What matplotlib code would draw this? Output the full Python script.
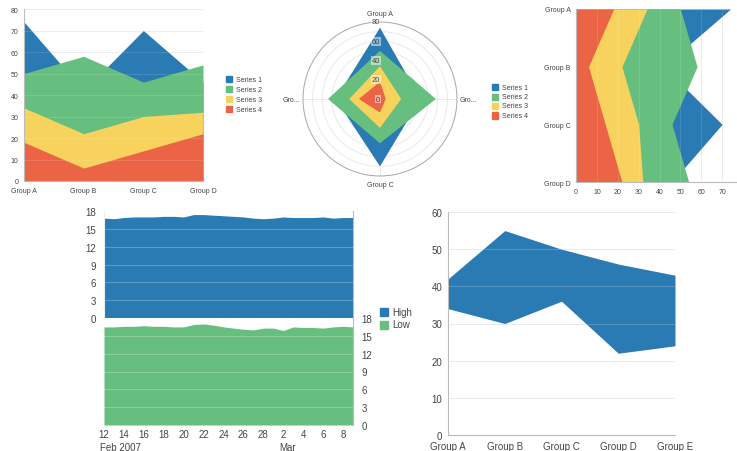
import numpy as np
import matplotlib
matplotlib.use("Agg")
import matplotlib.pyplot as plt
from matplotlib.patches import Rectangle
from matplotlib.transforms import blended_transform_factory

plt.rcParams['font.family'] = ['Liberation Sans', 'DejaVu Sans']

# --- data ---
groups4 = ["Group A", "Group B", "Group C", "Group D"]
series_names = ["Series 1", "Series 2", "Series 3", "Series 4"]
series1 = [74, 42, 70, 46]
series2 = [50, 58, 46, 54]
series3 = [34, 22, 30, 32]
series4 = [18, 6, 14, 22]

day_labels = ["12", "14", "16", "18", "20", "22", "24", "26", "28", "2", "4", "6", "8"]
high = [16.8, 16.7, 16.9, 17.0, 17.0, 17.0, 17.1, 17.1, 17.0, 17.4, 17.4, 17.3, 17.2,
        17.1, 17.0, 16.8, 16.7, 16.8, 17.0, 16.9, 16.9, 16.9, 17.0, 16.8, 16.9, 16.9]
low = [16.5, 16.5, 16.6, 16.6, 16.7, 16.6, 16.6, 16.5, 16.5, 16.9, 17.0, 16.8, 16.5,
       16.3, 16.1, 16.0, 16.3, 16.3, 15.9, 16.5, 16.4, 16.4, 16.3, 16.5, 16.6, 16.5]

groups5 = ["Group A", "Group B", "Group C", "Group D", "Group E"]
range_high = [42, 55, 50, 46, 43]
range_low = [34, 30, 36, 22, 24]

# --- style ---
colors = ["#2a7ab3", "#66bf7e", "#f7d25c", "#ec6446"]
txt = "#444444"
gridc = "#e6e6e6"
axisc = "#bbbbbb"

W, H = 737, 452
fig = plt.figure(figsize=(W / 100, H / 100), dpi=100)


def box(l, t, r, b):
    return [l / W, 1 - b / H, (r - l) / W, (b - t) / H]


def clean(ax, left=True, bottom=True):
    for s in ax.spines.values():
        s.set_visible(False)
    ax.spines['left'].set_visible(left)
    ax.spines['bottom'].set_visible(bottom)
    ax.spines['left'].set_color(axisc)
    ax.spines['bottom'].set_color(axisc)
    ax.tick_params(length=0, colors=txt)


def legend_px(x, y0, step, names, cols, fs=5, sq=6):
    for i, (n, c) in enumerate(zip(names, cols)):
        y = y0 + i * step
        fig.patches.append(Rectangle((x / W, 1 - (y + sq / 2) / H), sq / W, sq / H,
                                     transform=fig.transFigure, color=c))
        fig.text((x + sq + 4) / W, 1 - y / H, n, fontsize=fs, color=txt, va='center')


all_series = [series1, series2, series3, series4]

# top-left: overlapping area chart
ax1 = fig.add_axes(box(24, 10, 203, 182))
x4 = np.arange(len(groups4))
for s, c in zip(all_series, colors):
    ax1.fill_between(x4, 0, s, color=c, lw=0)
ax1.set_xlim(0, 3)
ax1.set_ylim(0, 80)
ax1.set_yticks(range(0, 81, 10))
ax1.set_xticks(x4)
ax1.set_xticklabels(groups4)
for v in range(10, 81, 10):
    ax1.axhline(v, color=gridc, lw=0.6, zorder=0)
    ax1.axhline(v, color="white", lw=0.6, alpha=0.15, zorder=3)
clean(ax1)
ax1.tick_params(axis='y', labelsize=5, pad=4)
ax1.tick_params(axis='x', labelsize=5, pad=4)
legend_px(226, 80, 10, series_names, colors)

# top-middle: radar
ax2 = fig.add_axes(box(303, 23, 457, 177), projection='polar')
ax2.set_theta_zero_location('N')
ax2.set_theta_direction(-1)
theta = np.linspace(0, 2 * np.pi, len(groups4), endpoint=False)
tc = np.append(theta, theta[0])
for s, c in zip(all_series, colors):
    ax2.fill(tc, np.append(s, s[0]), color=c, lw=0, zorder=2)
ax2.set_ylim(0, 80)
ax2.set_yticks(range(10, 81, 10))
ax2.set_yticklabels([])
ax2.set_xticks(theta)
ax2.set_xticklabels([])
ax2.grid(color=gridc, lw=0.6)
ax2.spines['polar'].set_color("#aaaaaa")
ax2.spines['polar'].set_linewidth(0.7)
for r in range(0, 81, 20):
    ax2.text(0, r, str(r), fontsize=5.5, color=txt, ha='right', va='center', zorder=5,
             bbox=dict(boxstyle='square,pad=0.1', fc='white', ec='none', alpha=0.5))
fig.text(380 / W, 1 - 15 / H, groups4[0], fontsize=5, color=txt, ha='center', va='center')
fig.text(380 / W, 1 - 186 / H, groups4[2], fontsize=5, color=txt, ha='center', va='center')
fig.text(460 / W, 1 - 100 / H, groups4[1][:3] + "...", fontsize=5, color=txt, ha='left', va='center')
fig.text(300 / W, 1 - 100 / H, groups4[3][:3] + "...", fontsize=5, color=txt, ha='right', va='center')
legend_px(492, 88, 9.5, series_names, colors)

# top-right: horizontal area chart
ax3 = fig.add_axes(box(576, 10, 743, 183))
for s, c in zip(all_series, colors):
    ax3.fill_betweenx(x4, 0, s, color=c, lw=0)
ax3.set_ylim(3, 0)
ax3.set_xlim(0, 80)
ax3.set_xticks(range(0, 71, 10))
ax3.set_yticks(x4)
ax3.set_yticklabels(groups4)
for v in range(10, 81, 10):
    ax3.axvline(v, color=gridc, lw=0.6, zorder=0)
    ax3.axvline(v, color="white", lw=0.6, alpha=0.15, zorder=3)
clean(ax3)
ax3.tick_params(labelsize=5, pad=4)

# bottom-left: high / low panels
xd = np.arange(len(high))
ax4 = fig.add_axes(box(104, 212, 353, 319))
ax4.fill_between(xd, 0, high, color=colors[0], lw=0)
ax4.set_xlim(0, len(high) - 1)
ax4.set_ylim(0, 18)
ax4.set_yticks(range(0, 19, 3))
ax4.set_xticks([])
for v in range(3, 19, 3):
    ax4.axhline(v, color="white", lw=0.7, alpha=0.25)
clean(ax4, left=False, bottom=False)
ax4.spines['right'].set_visible(True)
ax4.spines['right'].set_color(axisc)
ax4.spines['left'].set_visible(True)
ax4.spines['left'].set_color("#eeeeee")
ax4.tick_params(labelsize=7, pad=6)

ax5 = fig.add_axes(box(104, 319, 353, 426))
ax5.fill_between(xd, 0, low, color=colors[1], lw=0)
ax5.set_xlim(0, len(low) - 1)
ax5.set_ylim(0, 18)
ax5.set_yticks(range(0, 19, 3))
ax5.yaxis.tick_right()
ax5.set_xticks(xd[::2])
ax5.set_xticklabels(day_labels)
for v in range(3, 19, 3):
    ax5.axhline(v, color="white", lw=0.7, alpha=0.25)
clean(ax5, left=False, bottom=False)
ax5.spines['right'].set_visible(True)
ax5.spines['right'].set_color(axisc)
ax5.tick_params(axis='y', labelsize=7, pad=6)
ax5.tick_params(axis='x', labelsize=7, pad=3)
tr = blended_transform_factory(ax5.transData, ax5.transAxes)
ax5.text(-0.4, -0.21, "Feb 2007", transform=tr, fontsize=7, color=txt, ha='left', va='center')
ax5.text(17.6, -0.21, "Mar", transform=tr, fontsize=7, color=txt, ha='left', va='center')
legend_px(380, 313, 12.5, ["High", "Low"], colors[:2], fs=7, sq=8)

# bottom-right: range area
ax6 = fig.add_axes(box(448, 213, 675, 436))
x5 = np.arange(len(groups5))
ax6.fill_between(x5, range_low, range_high, color=colors[0], lw=0)
ax6.set_xlim(0, 4)
ax6.set_ylim(0, 60)
ax6.set_yticks(range(0, 61, 10))
ax6.set_xticks(x5)
ax6.set_xticklabels(groups5)
for v in range(10, 61, 10):
    ax6.axhline(v, color=gridc, lw=0.7, zorder=0)
    ax6.axhline(v, color="white", lw=0.7, alpha=0.2, zorder=3)
clean(ax6)
ax6.tick_params(axis='y', labelsize=7, pad=4)
ax6.tick_params(axis='x', labelsize=7, pad=4.5)

fig.savefig("out.png", dpi=100)
